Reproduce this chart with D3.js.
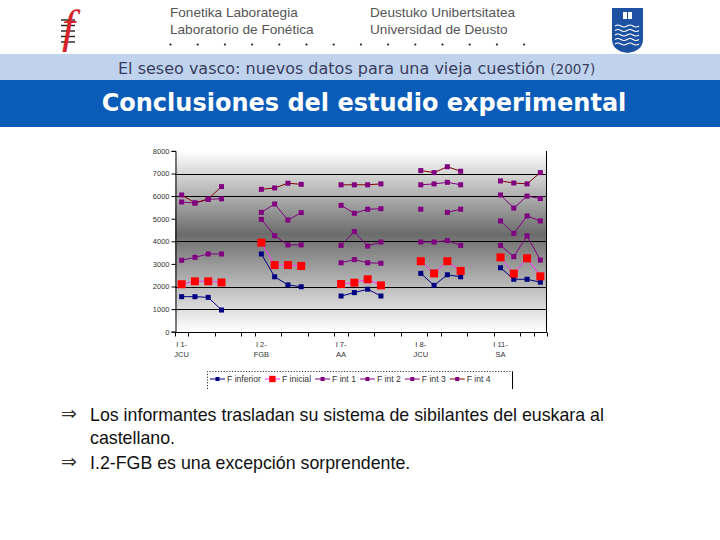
<!DOCTYPE html>
<html>
<head>
<meta charset="utf-8">
<script src="https://cdn.jsdelivr.net/npm/d3@7/dist/d3.min.js"></script>
<style>
  html, body { margin: 0; padding: 0; background: #fff; }
  svg { display: block; }
</style>
</head>
<body>
<div id="slide"></div>
<script>
// speakers (each one gets 4 measures + 2 empty slots on the category axis)
var speakers = [["I 1-", "JCU"], ["I 2-", "FGB"], ["I 7-", "AA"], ["I 8-", "JCU"], ["I 11-", "SA"]];
var pointsPerSpeaker = 4, gapSlots = 2;

var fInferior = [1550,1550,1520,960, 3440,2430,2070,1990, 1580,1730,1880,1580, 2580,2050,2520,2430, 2830,2320,2320,2190];
var fInicial  = [2100,2230,2230,2180, 3940,2950,2950,2910, 2110,2170,2320,2050, 3120,2580,3120,2690, 3290,2570,3250,2450];
var fInt1 = [3160,3290,3440,3440, null,null,null,null, 3050,3190,3050,3030, 3970,3970,4030,3820, 3820,3320,4240,3170];
var fInt2 = [null,null,null,null, 4970,4250,3840,3840, 3820,4430,3790,3970, 5420,null,5280,5420, 4900,4350,5120,4900];
var fInt3 = [5740,5690,5860,5880, 5280,5650,4940,5270, 5590,5240,5420,5440, 6500,6540,6610,6500, 6050,5470,6000,5890];
var fInt4 = [6050,5700,5870,6420, 6300,6360,6570,6520, 6500,6500,6500,6540, 7130,7040,7300,7100, 6670,6580,6540,7040];

var seriesNames = ["F inferior", "F inicial", "F int 1", "F int 2", "F int 3", "F int 4"];
var yTicks = [0,1000,2000,3000,4000,5000,6000,7000,8000];
var gridValues = [1000,2000,4000,6000,7000];
// category boundaries that carry a tick mark on the x axis
var xTickSlots = [0,1,3,5,6,8,10,12,13,15,17,19,20,22,24,26,27,28];

var bullets = [
    ["Los informantes trasladan su sistema de sibilantes del euskara al", "castellano."],
    ["I.2-FGB es una excepción sorprendente."]
];

var W = 720, H = 540;
var svg = d3.select("#slide").append("svg").attr("width", W).attr("height", H);

var defs = svg.append("defs");
var grad = defs.append("linearGradient").attr("id", "plotbg")
    .attr("x1", 0).attr("y1", 0).attr("x2", 0).attr("y2", 1);
grad.append("stop").attr("offset", "0%").attr("stop-color", "#ffffff");
grad.append("stop").attr("offset", "46%").attr("stop-color", "#6c6c6c");
grad.append("stop").attr("offset", "100%").attr("stop-color", "#ffffff");

// ---------- header ----------
svg.append("rect").attr("x", 0).attr("y", 54).attr("width", W).attr("height", 26).attr("fill", "#bfd3ee");
svg.append("rect").attr("x", 0).attr("y", 80).attr("width", W).attr("height", 47).attr("fill", "#0b5cb8");

var hdr = svg.append("g").style("font-family", "'Liberation Sans', Arial, sans-serif")
    .style("font-size", "13.6px").attr("fill", "#555");
hdr.append("text").attr("x", 170).attr("y", 17).text("Fonetika Laborategia");
hdr.append("text").attr("x", 170).attr("y", 34).text("Laboratorio de Fonética");
hdr.append("text").attr("x", 370).attr("y", 17).text("Deustuko Unibertsitatea");
hdr.append("text").attr("x", 370).attr("y", 34).text("Universidad de Deusto");

svg.append("g").selectAll("circle").data(d3.range(14)).join("circle")
    .attr("cx", function(d){ return 170.5 + d * 27.2; })
    .attr("cy", 44.5).attr("r", 1.1).attr("fill", "#222");

// left logo: italic f on a staff
var logo = svg.append("g");
logo.selectAll("line").data(d3.range(5)).join("line")
    .attr("x1", 61).attr("x2", 75)
    .attr("y1", function(d){ return 20 + d * 5.5; })
    .attr("y2", function(d){ return 20 + d * 5.5; })
    .attr("stroke", "#222").attr("stroke-width", 1.4);
logo.append("text").attr("x", 62).attr("y", 42)
    .style("font-family", "'Liberation Serif', 'DejaVu Serif', serif")
    .style("font-style", "italic").style("font-size", "47px")
    .attr("fill", "#d6232a").text("f");

// right logo: blue shield
var shield = svg.append("g");
shield.append("path").attr("d", "M612,8 H643 V39 Q643,51 627.5,53 Q612,51 612,39 Z").attr("fill", "#1d52a3");
shield.append("rect").attr("x", 623).attr("y", 12).attr("width", 9).attr("height", 7).attr("fill", "#fff");
shield.append("line").attr("x1", 627.5).attr("x2", 627.5).attr("y1", 12).attr("y2", 19).attr("stroke", "#1d52a3");
shield.selectAll("path.w").data(d3.range(5)).join("path").attr("class", "w")
    .attr("d", function(d){
        var y = 26 + d * 4.5;
        return "M615," + y + " q3,-2 6,0 t6,0 t6,0 t6,0";
    })
    .attr("fill", "none").attr("stroke", "#fff").attr("stroke-width", 1.2);

var sub = svg.append("text").attr("x", 118).attr("y", 74)
    .style("font-family", "'DejaVu Sans', Verdana, sans-serif")
    .style("font-size", "16px").attr("fill", "#3a3d5c");
sub.append("tspan").text("El seseo vasco: nuevos datos para una vieja cuestión ");
sub.append("tspan").style("font-size", "13.5px").text("(2007)");

svg.append("text").attr("x", 364).attr("y", 111).attr("text-anchor", "middle")
    .style("font-family", "'DejaVu Sans', Verdana, sans-serif")
    .style("font-weight", "bold").style("font-size", "24px")
    .attr("fill", "#fff").text("Conclusiones del estudio experimental");

// ---------- chart ----------
var nSlots = speakers.length * (pointsPerSpeaker + gapSlots) - gapSlots;
function slotOf(i) { return Math.floor(i / pointsPerSpeaker) * (pointsPerSpeaker + gapSlots) + i % pointsPerSpeaker; }

var x = d3.scaleBand().domain(d3.range(nSlots)).range([175, 547]).paddingInner(0).paddingOuter(0);
var y = d3.scaleLinear().domain([0, 8000]).range([331.7, 150.9]);
var cx = function(s){ return x(s) + x.bandwidth() / 2; };
var edge = function(s){ return s < nSlots ? x(s) : x.range()[1]; };

var chart = svg.append("g");
chart.append("rect").attr("x", 175).attr("y", y(8000)).attr("width", 547 - 175)
    .attr("height", y(0) - y(8000)).attr("fill", "url(#plotbg)");

chart.append("g").selectAll("line").data(gridValues).join("line")
    .attr("x1", 175).attr("x2", 547)
    .attr("y1", function(d){ return Math.round(y(d)) + 0.5; })
    .attr("y2", function(d){ return Math.round(y(d)) + 0.5; })
    .attr("stroke", "#000").attr("stroke-width", 1);

chart.append("line").attr("x1", 546.5).attr("x2", 546.5).attr("y1", y(8000)).attr("y2", y(0)).attr("stroke", "#000");

var yAxis = chart.append("g").attr("transform", "translate(175.5,0)")
    .call(d3.axisLeft(y).tickValues(yTicks).tickSize(4).tickFormat(d3.format("d")));
yAxis.select(".domain").attr("stroke", "#000");
yAxis.selectAll("text").style("font-family", "'Liberation Sans', Arial, sans-serif")
    .style("font-size", "7.5px").attr("fill", "#333").attr("x", -6);

var xAxis = chart.append("g").attr("transform", "translate(0," + (Math.round(y(0)) + 0.5) + ")");
xAxis.append("line").attr("x1", 175).attr("x2", 547).attr("stroke", "#000");
xAxis.selectAll("line.tk").data(xTickSlots).join("line").attr("class", "tk")
    .attr("x1", function(d){ return Math.round(edge(d)) + 0.5; })
    .attr("x2", function(d){ return Math.round(edge(d)) + 0.5; })
    .attr("y1", 0).attr("y2", 4).attr("stroke", "#000");
var xl = xAxis.selectAll("text").data(speakers).join("text")
    .attr("text-anchor", "middle")
    .style("font-family", "'Liberation Sans', Arial, sans-serif")
    .style("font-size", "7.5px").attr("fill", "#333")
    .attr("transform", function(d, i){ return "translate(" + cx(i * (pointsPerSpeaker + gapSlots)) + ",0)"; });
xl.append("tspan").attr("x", 0).attr("y", 14).text(function(d){ return d[0]; });
xl.append("tspan").attr("x", 0).attr("y", 24).text(function(d){ return d[1]; });

var series = [
    { name: seriesNames[0], values: fInferior, line: "#000080", fill: "#000080", size: 5 },
    { name: seriesNames[1], values: fInicial,  line: "#ff33ff", fill: "#ff0000", size: 8 },
    { name: seriesNames[2], values: fInt1,     line: "#800080", fill: "#800080", size: 5 },
    { name: seriesNames[3], values: fInt2,     line: "#800080", fill: "#800080", size: 5 },
    { name: seriesNames[4], values: fInt3,     line: "#800080", fill: "#800080", size: 5 },
    { name: seriesNames[5], values: fInt4,     line: "#800000", fill: "#800080", size: 5 }
];

var line = d3.line()
    .defined(function(d){ return d.v != null; })
    .x(function(d){ return cx(d.s); })
    .y(function(d){ return y(d.v); });

series.forEach(function(sr){
    var pts = d3.range(nSlots).map(function(s){ return { s: s, v: null }; });
    sr.values.forEach(function(v, i){ pts[slotOf(i)].v = v; });
    var g = chart.append("g");
    g.append("path").datum(pts).attr("d", line).attr("fill", "none")
        .attr("stroke", sr.line).attr("stroke-width", 1);
    g.selectAll("rect").data(pts.filter(function(d){ return d.v != null; })).join("rect")
        .attr("x", function(d){ return cx(d.s) - sr.size / 2; })
        .attr("y", function(d){ return y(d.v) - sr.size / 2; })
        .attr("width", sr.size).attr("height", sr.size).attr("fill", sr.fill);
});

// legend
var leg = chart.append("g");
leg.append("path").attr("d", "M207.5,389 V371.5 H512.5").attr("fill", "none")
    .attr("stroke", "#000").attr("stroke-width", 0.8).attr("stroke-dasharray", "1.2,1.6");
leg.append("line").attr("x1", 512.5).attr("x2", 512.5).attr("y1", 371.5).attr("y2", 389)
    .attr("stroke", "#000").attr("stroke-width", 1);
var lx = 210;
series.forEach(function(sr){
    var it = leg.append("g").attr("transform", "translate(" + lx + ",379)");
    it.append("line").attr("x1", 0).attr("x2", 15).attr("stroke", sr.line).attr("stroke-width", 1);
    it.append("rect").attr("x", 7.5 - sr.size / 2 * 0.8).attr("y", -sr.size / 2 * 0.8)
        .attr("width", sr.size * 0.8).attr("height", sr.size * 0.8).attr("fill", sr.fill);
    var t = it.append("text").attr("x", 17).attr("y", 3)
        .style("font-family", "'Liberation Sans', Arial, sans-serif")
        .style("font-size", "8.6px").attr("fill", "#333").text(sr.name);
    lx += 17 + t.node().getComputedTextLength() + 4;
});

// ---------- bullets ----------
var by = [421, 469];
bullets.forEach(function(b, bi){
    svg.append("text").attr("x", 61).attr("y", by[bi] - 1)
        .style("font-family", "'DejaVu Sans', sans-serif").style("font-size", "19px")
        .attr("fill", "#333").text("\u21D2");
    b.forEach(function(ln, li){
        svg.append("text").attr("x", 90).attr("y", by[bi] + li * 23)
            .style("font-family", "'Liberation Sans', Arial, sans-serif")
            .style("font-size", "17.8px").attr("fill", "#111").text(ln);
    });
});
</script>
</body>
</html>
